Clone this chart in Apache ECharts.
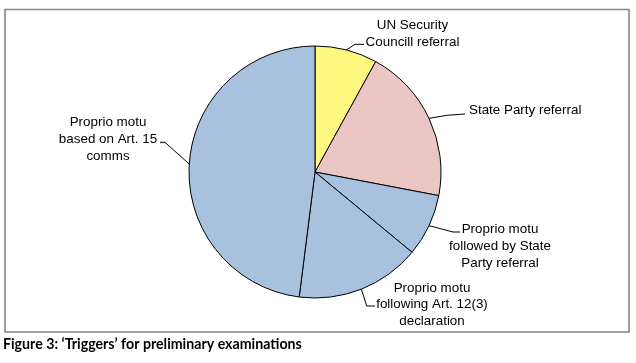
<!DOCTYPE html>
<html>
<head>
<meta charset="utf-8">
<script src="https://cdn.jsdelivr.net/npm/echarts@6/dist/echarts.min.js"></script>
<style>
  html, body { margin: 0; padding: 0; background: #ffffff; }
  #chart { width: 636px; height: 363px; }
</style>
</head>
<body>
<div id="chart"></div>
<script>
// ---- data ----
const categories = [
  'UN Security\nCouncill referral',
  'State Party referral',
  'Proprio motu\nfollowed by State\nParty referral',
  'Proprio motu\nfollowing Art. 12(3)\ndeclaration',
  'Proprio motu\nbased on Art. 15\ncomms'
];
const values = [2, 5, 2, 4, 12];
const captionText = 'Figure 3: \u2018Triggers\u2019 for preliminary examinations';

// ---- styles ----
const colors = ['#FFF880', '#EBC6C5', '#A8C1DF', '#A8C1DF', '#A8C1DF'];
// label placement (layout only)
const labelPlacement = [
  { x: 412.5, y: 33.5, align: 'center', p1: [355, 44.3], p2: [364, 44.3] },
  { x: 469, y: 110.7, align: 'left', p1: [447, 115.3], p2: [465, 114] },
  { x: 500, y: 246.3, align: 'center', p1: [453, 232], p2: [460, 232] },
  { x: 432, y: 304.7, align: 'center', p1: [366.7, 306], p2: [375, 306] },
  { x: 108, y: 139.5, align: 'center', p1: [165, 142.3], p2: [160, 142.3] }
];

const chart = echarts.init(document.getElementById('chart'), null, { renderer: 'canvas' });
chart.setOption({
  backgroundColor: '#ffffff',
  animation: false,
  graphic: [
    {
      type: 'rect',
      shape: { x: 5, y: 9.5, width: 624, height: 322.5 },
      style: { fill: 'none', stroke: '#858585', lineWidth: 1.6 },
      silent: true
    },
    {
      type: 'text',
      left: 3,
      top: 337,
      style: {
        text: captionText,
        font: 'bold 14.2px Lato, "Open Sans", sans-serif',
        fill: '#000000'
      }
    }
  ],
  series: [{
    type: 'pie',
    center: [315, 172],
    radius: 126,
    startAngle: 90,
    clockwise: true,
    avoidLabelOverlap: false,
    itemStyle: { borderColor: '#000000', borderWidth: 1 },
    label: {
      show: true,
      position: 'outside',
      fontFamily: '"Liberation Sans", Arial, sans-serif',
      fontSize: 13.4,
      lineHeight: 16.8,
      color: '#000000'
    },
    labelLine: {
      show: true,
      lineStyle: { color: '#000000', width: 1 }
    },
    labelLayout: function (p) {
      const L = labelPlacement[p.dataIndex];
      const e = p.labelLinePoints ? p.labelLinePoints[0] : L.p1;
      return {
        x: L.x, y: L.y, align: L.align, verticalAlign: 'middle',
        labelLinePoints: [[e[0], e[1]], L.p1, L.p2]
      };
    },
    data: categories.map(function (c, i) {
      return { name: c, value: values[i], itemStyle: { color: colors[i] } };
    })
  }]
});
</script>
</body>
</html>
